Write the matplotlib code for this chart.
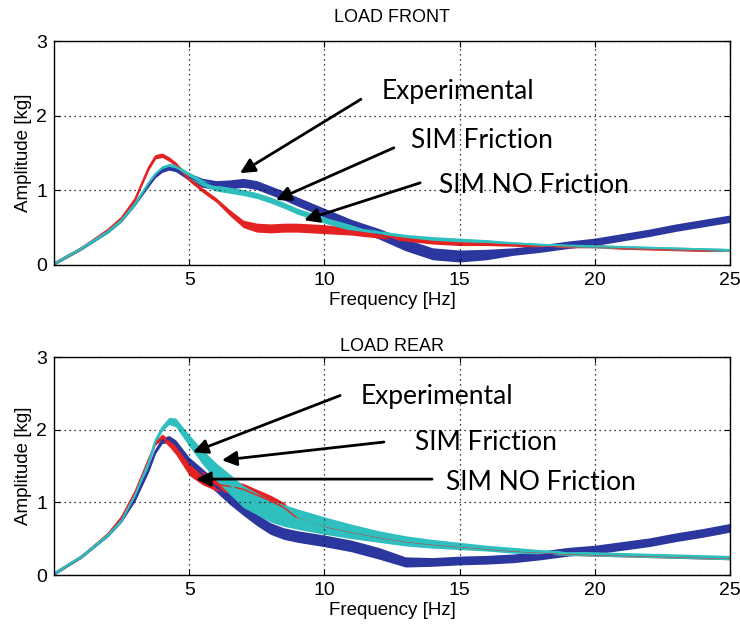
import matplotlib
matplotlib.use('Agg')
import matplotlib.pyplot as plt
import numpy as np

# frequency grid [Hz]
freq = [0, 1, 2, 2.5, 3, 3.5, 3.75, 4, 4.25, 4.5, 5, 5.5, 6, 6.5, 7, 7.5, 8, 8.5,
        9, 10, 11, 12, 13, 14, 15, 16, 17, 18, 19, 20, 21, 22, 23, 24, 25]

# LOAD FRONT
front_exp = [0.02, 0.22, 0.45, 0.60, 0.82, 1.08, 1.20, 1.27, 1.30, 1.28, 1.18, 1.10, 1.07, 1.08, 1.10, 1.07, 1.00, 0.93,
             0.85, 0.70, 0.55, 0.42, 0.27, 0.15, 0.12, 0.14, 0.18, 0.22, 0.27, 0.31, 0.37, 0.43, 0.50, 0.56, 0.62]
front_exp_w = [0.02, 0.02, 0.02, 0.02, 0.02, 0.03, 0.03, 0.03, 0.03, 0.03, 0.05, 0.06, 0.06, 0.06, 0.06, 0.06, 0.06, 0.06,
               0.06, 0.06, 0.06, 0.07, 0.08, 0.08, 0.08, 0.07, 0.05, 0.05, 0.05, 0.05, 0.05, 0.05, 0.05, 0.05, 0.05]
front_fric = [0.02, 0.22, 0.45, 0.60, 0.82, 1.10, 1.22, 1.30, 1.33, 1.32, 1.20, 1.10, 1.03, 1.00, 0.97, 0.93, 0.87, 0.80,
              0.72, 0.60, 0.50, 0.43, 0.38, 0.35, 0.33, 0.31, 0.29, 0.27, 0.26, 0.25, 0.24, 0.23, 0.22, 0.21, 0.20]
front_fric_w = [0.02, 0.02, 0.02, 0.02, 0.02, 0.02, 0.02, 0.03, 0.03, 0.03, 0.04, 0.04, 0.04, 0.04, 0.04, 0.04, 0.04, 0.04,
                0.04, 0.04, 0.04, 0.03, 0.03, 0.03, 0.03, 0.03, 0.02, 0.02, 0.02, 0.02, 0.02, 0.02, 0.02, 0.02, 0.02]
front_nofric = [0.02, 0.22, 0.47, 0.63, 0.88, 1.30, 1.45, 1.47, 1.42, 1.35, 1.15, 1.00, 0.87, 0.70, 0.55, 0.50, 0.49, 0.50,
                0.50, 0.48, 0.45, 0.40, 0.35, 0.31, 0.29, 0.28, 0.27, 0.26, 0.25, 0.25, 0.23, 0.22, 0.21, 0.20, 0.20]
front_nofric_w = [0.02, 0.02, 0.02, 0.02, 0.02, 0.03, 0.03, 0.03, 0.03, 0.03, 0.03, 0.03, 0.03, 0.04, 0.05, 0.06, 0.06, 0.06,
                  0.06, 0.06, 0.05, 0.04, 0.03, 0.03, 0.03, 0.02, 0.02, 0.02, 0.02, 0.02, 0.02, 0.02, 0.02, 0.02, 0.02]

# LOAD REAR
rear_exp = [0.02, 0.25, 0.55, 0.75, 1.05, 1.45, 1.70, 1.85, 1.87, 1.80, 1.55, 1.38, 1.22, 1.05, 0.90, 0.76, 0.64, 0.57,
            0.53, 0.47, 0.40, 0.30, 0.18, 0.18, 0.20, 0.21, 0.23, 0.27, 0.32, 0.35, 0.40, 0.45, 0.52, 0.58, 0.65]
rear_exp_w = [0.02, 0.02, 0.02, 0.02, 0.03, 0.03, 0.03, 0.04, 0.05, 0.06, 0.07, 0.08, 0.08, 0.08, 0.08, 0.08, 0.08, 0.08,
              0.08, 0.08, 0.08, 0.08, 0.07, 0.06, 0.06, 0.06, 0.06, 0.06, 0.06, 0.06, 0.06, 0.06, 0.06, 0.06, 0.06]
rear_fric = [0.02, 0.25, 0.55, 0.75, 1.10, 1.55, 1.85, 2.02, 2.12, 2.10, 1.85, 1.62, 1.42, 1.25, 1.08, 0.98, 0.88, 0.82,
             0.77, 0.68, 0.60, 0.53, 0.47, 0.43, 0.40, 0.37, 0.34, 0.32, 0.30, 0.29, 0.28, 0.27, 0.26, 0.25, 0.24]
rear_fric_w = [0.02, 0.02, 0.02, 0.02, 0.03, 0.04, 0.04, 0.04, 0.05, 0.06, 0.08, 0.10, 0.12, 0.14, 0.15, 0.15, 0.15, 0.15,
               0.14, 0.12, 0.10, 0.08, 0.07, 0.06, 0.05, 0.04, 0.04, 0.03, 0.03, 0.03, 0.03, 0.03, 0.03, 0.03, 0.03]
rear_nofric = [0.02, 0.25, 0.57, 0.80, 1.15, 1.60, 1.82, 1.90, 1.82, 1.72, 1.45, 1.33, 1.25, 1.22, 1.18, 1.10, 1.02, 0.93,
               0.78, 0.67, 0.59, 0.52, 0.46, 0.42, 0.39, 0.36, 0.33, 0.31, 0.29, 0.28, 0.27, 0.26, 0.25, 0.24, 0.23]
rear_nofric_w = [0.02, 0.02, 0.02, 0.02, 0.03, 0.03, 0.03, 0.04, 0.05, 0.06, 0.08, 0.09, 0.09, 0.09, 0.08, 0.08, 0.08, 0.07,
                 0.02, 0.02, 0.02, 0.02, 0.02, 0.02, 0.02, 0.02, 0.02, 0.02, 0.02, 0.02, 0.02, 0.02, 0.02, 0.02, 0.02]

labels = ['Experimental', 'SIM Friction', 'SIM NO Friction']
# text position, arrow tail, arrow head (data coords)
front_notes = [((12.1, 2.32), (11.35, 2.22), (6.88, 1.23)),
               ((13.2, 1.67), (12.57, 1.57), (8.21, 0.87)),
               ((14.25, 1.07), (13.54, 1.10), (9.25, 0.60))]
rear_notes = [((11.35, 2.46), (10.58, 2.47), (5.14, 1.69)),
              ((13.35, 1.83), (12.20, 1.83), (6.21, 1.58)),
              ((14.5, 1.28), (13.98, 1.32), (5.25, 1.32))]

blue = '#2b369f'
cyan = '#30bfbf'
red = '#e52222'

tick_font = ['Liberation Sans', 'DejaVu Sans']
note_font = ['Lato', 'DejaVu Sans']

fig = plt.figure(figsize=(7.4, 6.33), dpi=100)
ax1 = fig.add_axes([0.073, 0.5814, 0.9135, 0.3538])
ax2 = fig.add_axes([0.073, 0.0916, 0.9135, 0.3444])

x = np.array(freq)


def band(ax, y, w, color, lw=1.5):
    y = np.array(y)
    w = np.array(w)
    ax.fill_between(x, y - w, y + w, color=color, lw=0)
    ax.plot(x, y, color=color, lw=lw)


def setup(ax, title, pad, notes):
    ax.set_xlim(0, 25)
    ax.set_ylim(0, 3)
    ax.set_xticks([5, 10, 15, 20, 25])
    ax.set_yticks([0, 1, 2, 3])
    ax.grid(True, color='black', linestyle=(0, (1, 3)), lw=0.9)
    ax.tick_params(direction='in', length=4, top=True, right=True, labelsize=14, pad=5)
    for lab in ax.get_xticklabels() + ax.get_yticklabels():
        lab.set_family(tick_font)
    for s in ax.spines.values():
        s.set_linewidth(1.0)
    ax.set_title(title, fontsize=13, family=tick_font, pad=pad)
    ax.set_xlabel('Frequency [Hz]', fontsize=13.5, family=tick_font, labelpad=2)
    ax.set_ylabel('Amplitude [kg]', fontsize=13.5, family=tick_font, labelpad=3)
    for lab, (txt, tail, head) in zip(labels, notes):
        ax.annotate('', xy=head, xytext=tail,
                    arrowprops=dict(arrowstyle='-|>', color='black', lw=2, mutation_scale=22,
                                    shrinkA=0, shrinkB=0))
        ax.text(txt[0], txt[1], lab, fontsize=19, family=note_font, va='center', ha='left')


band(ax1, front_exp, front_exp_w, blue)
band(ax1, front_nofric, front_nofric_w, red)
band(ax1, front_fric, front_fric_w, cyan)
setup(ax1, 'LOAD FRONT', 14, front_notes)

band(ax2, rear_exp, rear_exp_w, blue)
band(ax2, rear_nofric, rear_nofric_w, red, lw=1.0)
band(ax2, rear_fric, rear_fric_w, cyan)
setup(ax2, 'LOAD REAR', 4, rear_notes)

fig.savefig('out.png', dpi=100)
